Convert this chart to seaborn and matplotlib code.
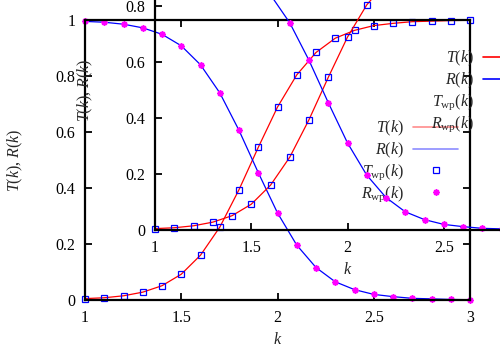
import matplotlib
matplotlib.use("Agg")
import matplotlib.pyplot as plt
from matplotlib.lines import Line2D
import seaborn as sns

# ---- data ----
k = [1.0, 1.1, 1.2, 1.3, 1.4, 1.5, 1.6, 1.7, 1.8, 1.9, 2.0,
     2.1, 2.2, 2.3, 2.4, 2.5, 2.6, 2.7, 2.8, 2.9, 3.0]
T = [0.005, 0.008, 0.015, 0.028, 0.051, 0.092, 0.160, 0.260, 0.394, 0.545, 0.689,
     0.804, 0.884, 0.935, 0.963, 0.980, 0.988, 0.994, 0.996, 0.998, 0.999]
R = [0.995, 0.992, 0.985, 0.972, 0.949, 0.908, 0.840, 0.740, 0.606, 0.455, 0.311,
     0.196, 0.116, 0.065, 0.037, 0.020, 0.012, 0.006, 0.004, 0.002, 0.001]
xticks = [1, 1.5, 2, 2.5, 3]
xtick_labels = ["1", "1.5", "2", "2.5", "3"]
yticks = [0, 0.2, 0.4, 0.6, 0.8, 1]
ytick_labels = ["0", "0.2", "0.4", "0.6", "0.8", "1"]
labels = [r"$T(k)$", r"$R(k)$", r"$T_{\rm wp}(k)$", r"$R_{\rm wp}(k)$"]

RED = "#ff0000"
BLUE = "#0000ff"
MAG = "#ff00ff"
FS = 11.5

sns.set_style("ticks")
plt.rcParams["font.family"] = ["Liberation Serif", "DejaVu Serif"]
plt.rcParams["mathtext.fontset"] = "custom"
plt.rcParams["mathtext.rm"] = "Liberation Serif"
plt.rcParams["mathtext.it"] = "Liberation Serif:italic"
plt.rcParams["mathtext.bf"] = "Liberation Serif:bold"
plt.rcParams["font.size"] = FS

fig = plt.figure(figsize=(5, 3.5), dpi=100)
fig.patch.set_facecolor("white")
ax_main = fig.add_axes([85 / 500, 1 - 300 / 350, 385 / 500, 280 / 350])
ax_ins = fig.add_axes([155 / 500, 1 - 230 / 350, 385 / 500, 280 / 350])


def draw(ax, leg_alpha):
    ax.set_facecolor("none")
    sns.lineplot(x=k, y=T, ax=ax, color=RED, lw=0.9, sort=False, errorbar=None)
    sns.lineplot(x=k, y=R, ax=ax, color=BLUE, lw=0.9, sort=False, errorbar=None)
    sns.lineplot(x=k, y=T, ax=ax, color=BLUE, sort=False, errorbar=None,
                 marker="s", linestyle="none", ms=4.5, mfc="none", mec=BLUE, mew=0.9)
    ax.lines[-1].set_clip_on(False)
    sns.lineplot(x=k, y=R, ax=ax, color=MAG, sort=False, errorbar=None,
                 marker=(8, 2, 0), linestyle="none", ms=4.5, mec=MAG, mew=1.2)
    ax.lines[-1].set_clip_on(False)

    ax.set_xlim(1, 3)
    ax.set_ylim(0, 1)
    ax.set_xticks(xticks)
    ax.set_xticklabels(xtick_labels)
    ax.set_yticks(yticks)
    ax.set_yticklabels(ytick_labels)
    ax.tick_params(direction="in", length=5, width=1.3, top=True, right=True,
                   labelsize=FS, pad=7, colors="black")
    for s in ax.spines.values():
        s.set_linewidth(1.6)
        s.set_color("black")
        s.set_visible(True)
    ax.set_xlabel(r"$k$", fontsize=FS)
    ax.set_ylabel(r"$T(k)$, $R(k)$", fontsize=FS)
    ax.xaxis.set_label_coords(0.5, -0.115)
    ax.yaxis.set_label_coords(-0.155, 0.5)

    handles = [
        Line2D([], [], color=RED, lw=1.2, alpha=leg_alpha),
        Line2D([], [], color=BLUE, lw=1.2, alpha=leg_alpha),
        Line2D([], [], color=BLUE, marker="s", linestyle="none", ms=4.5,
               mfc="none", mec=BLUE, mew=0.9),
        Line2D([], [], color=MAG, marker=(8, 2, 0), linestyle="none", ms=4.5,
               mec=MAG, mew=1.2),
    ]
    ax.legend(handles, labels, loc="center right", bbox_to_anchor=(0.969, 0.494),
              frameon=False, markerfirst=False, borderpad=0, handlelength=2.8,
              handletextpad=0.6, labelspacing=0.15, numpoints=1, fontsize=FS,
              borderaxespad=0)


draw(ax_main, 0.45)
draw(ax_ins, 1.0)

fig.savefig("out.png", dpi=100, facecolor="white")
